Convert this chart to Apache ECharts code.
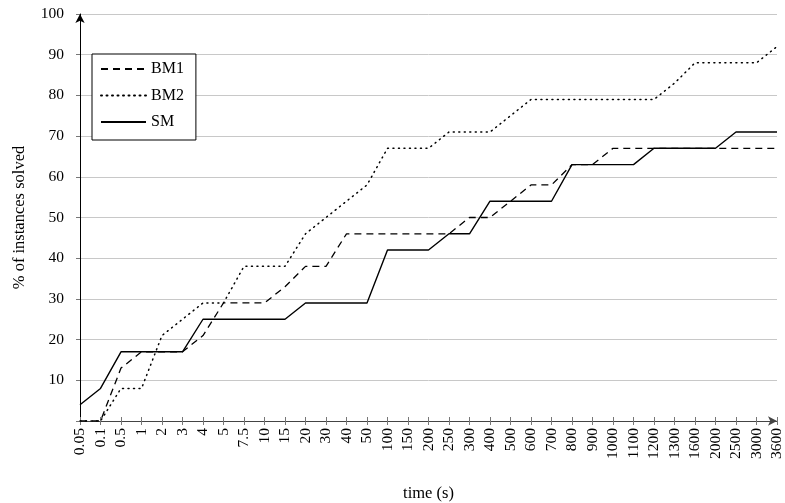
<!DOCTYPE html>
<html>
<head>
<meta charset="utf-8">
<script src="https://cdn.jsdelivr.net/npm/echarts@6/dist/echarts.min.js"></script>
<style>html,body{margin:0;padding:0;background:#fff}#c{width:785px;height:503px}</style>
</head>
<body>
<div id="c"></div>
<script>
const categories = ['0.05','0.1','0.5','1','2','3','4','5','7.5','10','15','20','30','40','50','100','150','200','250','300','400','500','600','700','800','900','1000','1100','1200','1300','1600','2000','2500','3000','3600'];
const bm1 = [0,0,13,17,17,17,21,29,29,29,33,38,38,46,46,46,46,46,46,50,50,54,58,58,63,63,67,67,67,67,67,67,67,67,67];
const bm2 = [0,0,8,8,21,25,29,29,38,38,38,46,50,54,58,67,67,67,71,71,71,75,79,79,79,79,79,79,79,83,88,88,88,88,92];
const sm  = [4,8,17,17,17,17,25,25,25,25,25,29,29,29,29,42,42,42,46,46,54,54,54,54,63,63,63,63,67,67,67,67,71,71,71];
const yTicks = [10,20,30,40,50,60,70,80,90,100];

const FONT = 'Liberation Serif';
const chart = echarts.init(document.getElementById('c'), null, {renderer:'canvas'});
const lineBase = {type:'line', symbol:'none', smooth:false, animation:false};
chart.setOption({
  animation:false,
  textStyle:{fontFamily:FONT, color:'#000'},
  grid:{left:80, right:8, top:14, bottom:82, containLabel:false, outerBoundsMode:'none'},
  legend:{
    orient:'vertical', left:92, top:54,
    backgroundColor:'#fff', borderColor:'#000', borderWidth:1, borderRadius:0,
    padding:[7,12,10,8], itemWidth:45, itemHeight:16, itemGap:10.5,
    itemStyle:{opacity:0},
    textStyle:{fontFamily:FONT, fontSize:16, color:'#000'},
    data:['BM1','BM2','SM']
  },
  xAxis:[{
    type:'category', data:categories, boundaryGap:false,
    name:'time (s)', nameLocation:'middle', nameGap:64,
    nameTextStyle:{fontFamily:FONT, fontSize:16.5, color:'#000'},
    axisLine:{show:true, lineStyle:{color:'#444', width:1}, symbol:['none','arrow'], symbolSize:[7,9]},
    axisTick:{show:true, alignWithLabel:true, length:4, lineStyle:{color:'#777'}},
    axisLabel:{rotate:90, interval:0, margin:7, fontFamily:FONT, fontSize:15.5, color:'#000'},
    splitLine:{show:false}
  },{
    type:'category', data:categories, boundaryGap:false, position:'bottom',
    axisLine:{show:false}, axisLabel:{show:false},
    axisTick:{show:true, inside:true, length:4, interval:0, lineStyle:{color:'#777'}},
    splitLine:{show:false}
  }],
  yAxis:{
    type:'value', min:0, max:100, interval:10,
    name:'% of instances solved', nameLocation:'middle', nameGap:52, nameRotate:90,
    nameTextStyle:{fontFamily:FONT, fontSize:16.5, color:'#000'},
    axisLine:{show:true, lineStyle:{color:'#000', width:1}, symbol:['none','arrow'], symbolSize:[7,9]},
    axisTick:{show:true, length:4, lineStyle:{color:'#777'}},
    axisLabel:{margin:16, fontFamily:FONT, fontSize:15.5, color:'#000',
      formatter:v => yTicks.includes(v) ? String(v) : ''},
    splitLine:{show:true, lineStyle:{color:'#c8c8c8', width:1}}
  },
  series:[
    Object.assign({}, lineBase, {name:'BM1', data:bm1, lineStyle:{color:'#000', width:1.3, type:[7,5]}, itemStyle:{color:'#000'}}),
    Object.assign({}, lineBase, {name:'BM2', data:bm2, lineStyle:{color:'#000', width:1.5, type:[1,4.5], cap:'round'}, itemStyle:{color:'#000'}}),
    Object.assign({}, lineBase, {name:'SM', data:sm, lineStyle:{color:'#000', width:1.4, type:'solid'}, itemStyle:{color:'#000'}})
  ]
});
</script>
</body>
</html>
